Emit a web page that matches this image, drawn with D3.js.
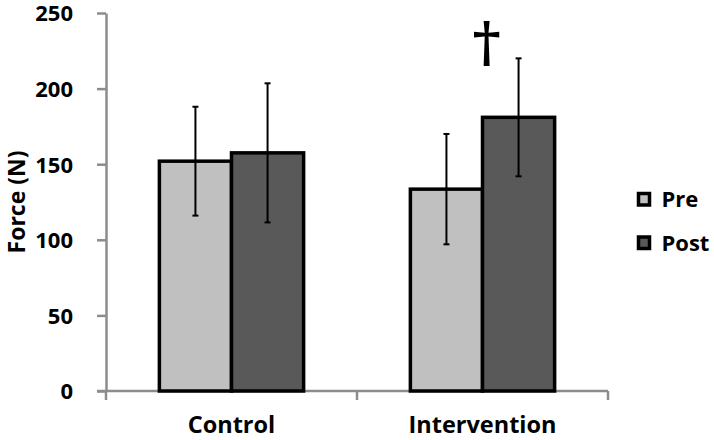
<!DOCTYPE html>
<html>
<head>
<meta charset="utf-8">
<script src="https://cdn.jsdelivr.net/npm/d3@7"></script>
<style>
  html, body { margin: 0; padding: 0; background: #fff; }
  svg { display: block; font-family: "Open Sans", sans-serif; }
</style>
</head>
<body>
<svg id="chart" width="714" height="440"></svg>
<script>
const categories = ["Control", "Intervention"];
const seriesNames = ["Pre", "Post"];
const preValues = [152, 133.5];
const postValues = [157.5, 181];
const preErrors = [36, 36.5];
const postErrors = [46, 39];
const yTicks = [0, 50, 100, 150, 200, 250];
const yLabel = "Force (N)";
const significanceMark = "†";
const colors = ["#c0c0c0", "#595959"];

const svg = d3.select("#chart");
const margin = { left: 106, right: 106, top: 13, bottom: 49 };
const W = 714, H = 440;

const x = d3.scaleBand().domain(categories).range([margin.left, W - margin.right]).paddingInner(0).paddingOuter(0);
const inner = d3.scaleBand().domain(seriesNames).range([0, x.bandwidth()]).paddingInner(0).paddingOuter(0.74);
const y = d3.scaleLinear().domain([0, 250]).range([H - margin.bottom, margin.top]);

const data = categories.flatMap((c, i) => [
  { cat: c, s: "Pre", v: preValues[i], e: preErrors[i] },
  { cat: c, s: "Post", v: postValues[i], e: postErrors[i] }
]);

// y axis
const yAxis = svg.append("g").attr("transform", `translate(${margin.left},0)`)
  .call(d3.axisLeft(y).tickValues(yTicks).tickSize(9).tickSizeOuter(0).tickPadding(24));
yAxis.select(".domain").attr("stroke", "#8c8c8c").attr("stroke-width", 2.5);
yAxis.selectAll(".tick line").attr("stroke", "#8c8c8c").attr("stroke-width", 2.5);
yAxis.selectAll(".tick text").attr("font-size", 22).attr("font-weight", "bold").attr("fill", "#000")
  .attr("font-family", "'Open Sans', sans-serif").attr("dy", "0.36em");

// x axis
const xAxisG = svg.append("g").attr("transform", `translate(0,${y(0)})`);
xAxisG.append("line").attr("x1", margin.left - 9).attr("x2", W - margin.right)
  .attr("stroke", "#8c8c8c").attr("stroke-width", 2.5);
const bounds = [x.range()[0], ...categories.map(c => x(c) + x.bandwidth())];
xAxisG.selectAll("line.tk").data(bounds).join("line").attr("class", "tk")
  .attr("x1", d => d).attr("x2", d => d).attr("y1", 0).attr("y2", 9)
  .attr("stroke", "#8c8c8c").attr("stroke-width", 2.5);
xAxisG.selectAll("text").data(categories).join("text")
  .attr("x", d => x(d) + x.bandwidth() / 2).attr("y", 42)
  .attr("text-anchor", "middle").attr("font-size", 23.5).attr("font-weight", "bold").text(d => d);

// bars
svg.append("g").selectAll("rect").data(data).join("rect")
  .attr("x", d => x(d.cat) + inner(d.s))
  .attr("y", d => y(d.v))
  .attr("width", inner.bandwidth())
  .attr("height", d => y(0) - y(d.v))
  .attr("fill", d => colors[seriesNames.indexOf(d.s)])
  .attr("stroke", "#000").attr("stroke-width", 3.5);

// error bars
const eb = svg.append("g").attr("stroke", "#000").attr("stroke-width", 2);
data.forEach(d => {
  const cx = x(d.cat) + inner(d.s) + inner.bandwidth() / 2;
  eb.append("line").attr("x1", cx).attr("x2", cx).attr("y1", y(d.v + d.e)).attr("y2", y(d.v - d.e));
  eb.append("line").attr("x1", cx - 3).attr("x2", cx + 3).attr("y1", y(d.v + d.e)).attr("y2", y(d.v + d.e));
  eb.append("line").attr("x1", cx - 3).attr("x2", cx + 3).attr("y1", y(d.v - d.e)).attr("y2", y(d.v - d.e));
});

// significance dagger
svg.append("text")
  .attr("x", x("Intervention") + inner("Post") + 4)
  .attr("y", 61)
  .attr("text-anchor", "middle")
  .attr("font-family", "'DejaVu Serif', serif")
  .attr("font-weight", "bold")
  .attr("font-size", 54)
  .text(significanceMark);

// y label
svg.append("text")
  .attr("transform", `translate(25,${(y(0) + y(250)) / 2}) rotate(-90)`)
  .attr("text-anchor", "middle").attr("font-size", 23).attr("font-weight", "bold").text(yLabel);

// legend
const lg = svg.append("g").selectAll("g").data(seriesNames).join("g")
  .attr("transform", (d, i) => `translate(638.5,${193.5 + i * 43.5})`);
lg.append("rect").attr("width", 11).attr("height", 11.5)
  .attr("fill", (d, i) => colors[i]).attr("stroke", "#000").attr("stroke-width", 3.5);
lg.append("text").attr("x", 23).attr("y", 13.5).attr("font-size", 22).attr("font-weight", "bold").text(d => d);
</script>
</body>
</html>
